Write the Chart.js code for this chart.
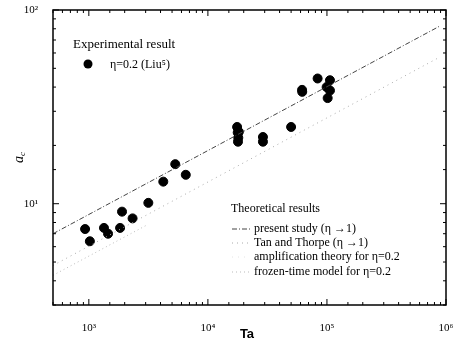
<!DOCTYPE html>
<html>
<head>
<meta charset="utf-8">
<script src="https://cdn.jsdelivr.net/npm/chart.js@4"></script>
<style>
  body { margin: 0; background: #fff; }
  canvas { display: block; }
</style>
</head>
<body>
<canvas id="chart" width="453" height="351"></canvas>
<script>
// Experimental points, eta = 0.2 (Liu)
const taExp = [930, 1020, 1340, 1450, 1830, 1900, 2330, 3160, 4220, 5320, 6520,
               17600, 18200, 17800, 18000, 17900, 29000, 29000, 50000, 61800, 62000,
               83500, 106000, 99400, 106000, 101400];
const acExp = [7.4, 6.4, 7.5, 7.0, 7.5, 9.1, 8.4, 10.1, 13.0, 16.0, 14.1,
               24.9, 23.5, 23.3, 21.9, 20.9, 22.1, 20.9, 24.9, 38.7, 37.8,
               44.3, 43.4, 40.0, 38.4, 35.1];

const taPresent = [500, 900000];
const acPresent = [7.0, 83];
const taTan = [500, 880000];
const acTan = [4.8, 57];
const taFrozen = [500, 3000];
const acFrozen = [4.27, 7.7];

const xTickLabels = {1e3: "10³", 1e4: "10⁴", 1e5: "10⁵", 1e6: "10⁶"};
const yTickLabels = {10: "10¹", 100: "10²"};

const serif = "'Liberation Serif', 'DejaVu Serif', serif";

function pts(xs, ys) {
    return xs.map((x, i) => ({x: x, y: ys[i]}));
}

function isDecade(v) {
    const l = Math.log10(v);
    return Math.abs(l - Math.round(l)) < 1e-9;
}

const framePlugin = {
    id: 'frame',
    afterDraw(chart) {
        const ctx = chart.ctx;
        const a = chart.chartArea;
        const xs = chart.scales.x, ys = chart.scales.y;
        ctx.save();
        ctx.strokeStyle = '#000';
        ctx.lineWidth = 1.5;
        ctx.strokeRect(a.left, a.top, a.right - a.left, a.bottom - a.top);
        ctx.lineWidth = 1;
        ctx.beginPath();
        xs.ticks.forEach(t => {
            const p = xs.getPixelForValue(t.value);
            const len = isDecade(t.value) ? 6 : 3;
            ctx.moveTo(p, a.bottom); ctx.lineTo(p, a.bottom - len);
            ctx.moveTo(p, a.top); ctx.lineTo(p, a.top + len);
        });
        ys.ticks.forEach(t => {
            const p = ys.getPixelForValue(t.value);
            const len = isDecade(t.value) ? 6 : 3;
            ctx.moveTo(a.left, p); ctx.lineTo(a.left + len, p);
            ctx.moveTo(a.right, p); ctx.lineTo(a.right - len, p);
        });
        ctx.stroke();

        // axis titles
        ctx.fillStyle = '#000';
        ctx.font = "bold 13px 'Liberation Sans', Arial, sans-serif";
        ctx.textAlign = 'center';
        ctx.textBaseline = 'middle';
        ctx.fillText('Ta', 247, 334);

        ctx.save();
        ctx.translate(19, 157);
        ctx.rotate(-Math.PI / 2);
        ctx.font = "italic 14px " + serif;
        ctx.textAlign = 'left';
        ctx.fillText('a', -6, 0);
        ctx.font = "italic 9px " + serif;
        ctx.fillText('c', 1, 4);
        ctx.restore();

        // experimental legend
        ctx.font = "13px " + serif;
        ctx.textAlign = 'left';
        ctx.fillText('Experimental result', 73, 45);
        ctx.beginPath();
        ctx.arc(88, 64, 4.5, 0, Math.PI * 2);
        ctx.fill();
        ctx.font = "12px " + serif;
        ctx.fillText('η=0.2 (Liu⁵)', 110, 65);

        // theoretical legend
        ctx.font = "12px " + serif;
        ctx.fillText('Theoretical results', 231, 209);
        const rows = [
            {text: 'present study (η →1)', y: 229, color: '#444', dash: [5, 2, 1, 2]},
            {text: 'Tan and Thorpe (η →1)', y: 243, color: '#aaa', dash: [1, 4]},
            {text: 'amplification theory for η=0.2', y: 257, color: '#e4e4e4', dash: [1, 5]},
            {text: 'frozen-time model for η=0.2', y: 272, color: '#bbb', dash: [1, 3]}
        ];
        rows.forEach(r => {
            ctx.save();
            ctx.strokeStyle = r.color;
            ctx.setLineDash(r.dash);
            ctx.beginPath();
            ctx.moveTo(232, r.y);
            ctx.lineTo(250, r.y);
            ctx.stroke();
            ctx.restore();
            ctx.fillText(r.text, 254, r.y);
        });
        ctx.restore();
    }
};

new Chart(document.getElementById('chart'), {
    type: 'scatter',
    data: {
        datasets: [
            {
                label: 'present study',
                data: pts(taPresent, acPresent),
                showLine: true,
                borderColor: '#444',
                borderWidth: 1,
                borderDash: [5, 2, 1, 2],
                pointRadius: 0,
                fill: false
            },
            {
                label: 'Tan and Thorpe',
                data: pts(taTan, acTan),
                showLine: true,
                borderColor: '#aaa',
                borderWidth: 1,
                borderDash: [1, 4],
                pointRadius: 0,
                fill: false
            },
            {
                label: 'frozen-time model',
                data: pts(taFrozen, acFrozen),
                showLine: true,
                borderColor: '#bbb',
                borderWidth: 1,
                borderDash: [1, 3],
                pointRadius: 0,
                fill: false
            },
            {
                label: 'experiment',
                data: pts(taExp, acExp),
                backgroundColor: '#000',
                borderColor: '#000',
                pointRadius: 4.5,
                pointHoverRadius: 4.5
            }
        ]
    },
    options: {
        responsive: false,
        animation: false,
        devicePixelRatio: 1,
        layout: {padding: {top: 10, right: 7, left: 0, bottom: 0}},
        plugins: {legend: {display: false}, tooltip: {enabled: false}},
        scales: {
            x: {
                type: 'logarithmic',
                min: 500,
                max: 1e6,
                grid: {display: false},
                border: {display: false},
                afterFit: s => { s.height = 46; s.paddingLeft = 0; s.paddingRight = 0; },
                ticks: {
                    autoSkip: false,
                    maxRotation: 0,
                    padding: 9,
                    color: '#000',
                    font: {family: serif, size: 11},
                    callback: v => xTickLabels[v] || ''
                }
            },
            y: {
                type: 'logarithmic',
                min: 3,
                max: 100,
                grid: {display: false},
                border: {display: false},
                afterFit: s => { s.width = 53; s.paddingTop = 0; s.paddingBottom = 0; },
                ticks: {
                    autoSkip: false,
                    padding: 7,
                    color: '#000',
                    font: {family: serif, size: 11},
                    callback: v => yTickLabels[v] || ''
                }
            }
        }
    },
    plugins: [framePlugin]
});
</script>
</body>
</html>
